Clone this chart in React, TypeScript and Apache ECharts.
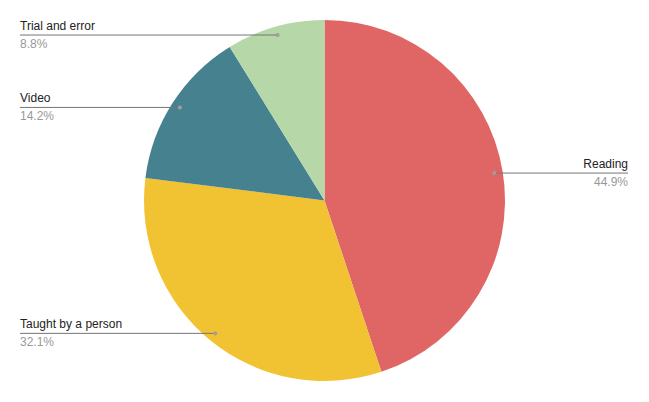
import { useEffect, useRef } from "react";
import * as echarts from "echarts";

const categories = ["Reading", "Taught by a person", "Video", "Trial and error"];
const shares = [44.9, 32.1, 14.2, 8.8];
const colors = ["#e06666", "#f1c232", "#45818e", "#b6d7a8"];

const CX = 324.5;
const CY = 200.5;
const R = 180.5;
const DOT_R = 172;
const LEFT_EDGE = 20;
const RIGHT_EDGE = 628;
const FONT = "'Liberation Sans', Arial, sans-serif";

function dotPoint(i: number): [number, number] {
  const total = shares.reduce((a, b) => a + b, 0);
  let cum = 0;
  for (let k = 0; k < i; k++) cum += shares[k];
  const mid = cum + shares[i] / 2;
  const ang = ((90 - (mid / total) * 360) * Math.PI) / 180;
  return [CX + DOT_R * Math.cos(ang), CY - DOT_R * Math.sin(ang)];
}

export default function App() {
  const ref = useRef<HTMLDivElement>(null);
  useEffect(() => {
    const chart = echarts.init(ref.current!, null, { renderer: "svg" });
    const data = categories.map((name, i) => ({ name, value: shares[i] }));
    chart.setOption({
      animation: false,
      color: colors,
      textStyle: { fontFamily: FONT },
      series: [
        {
          type: "pie",
          center: [CX, CY],
          radius: R,
          startAngle: 90,
          clockwise: true,
          data,
          silent: true,
          label: { show: false },
          labelLine: { show: false },
          itemStyle: { borderWidth: 0 },
        },
        {
          type: "pie",
          center: [CX, CY],
          radius: DOT_R,
          startAngle: 90,
          clockwise: true,
          data,
          silent: true,
          z: 3,
          itemStyle: { color: "transparent", borderWidth: 0 },
          label: {
            show: true,
            position: "outside",
            formatter: (p: any) => `{n|${p.name}}\n{p|${Number(p.value).toFixed(1)}%}`,
            rich: {
              n: { fontSize: 12, color: "#222222", fontFamily: FONT, lineHeight: 18 },
              p: { fontSize: 12, color: "#999999", fontFamily: FONT, lineHeight: 18 },
            },
          },
          labelLine: {
            show: true,
            length: 0,
            length2: 0,
            lineStyle: { color: "#757575", width: 1 },
          },
          labelLayout: (params: any) => {
            const [x0, y0] = dotPoint(params.dataIndex);
            const left = x0 < CX;
            const ex = left ? LEFT_EDGE : RIGHT_EDGE;
            return {
              x: ex,
              y: y0,
              align: left ? "left" : "right",
              verticalAlign: "middle",
              labelLinePoints: [
                [x0, y0],
                [ex, y0],
                [ex, y0],
              ],
            };
          },
        },
        {
          type: "custom",
          coordinateSystem: "none",
          silent: true,
          z: 10,
          data: shares.map((_, i) => i),
          renderItem: (params: any) => {
            const [x, y] = dotPoint(params.dataIndex);
            return {
              type: "circle",
              shape: { cx: x, cy: y, r: 2 },
              style: { fill: "#9e9e9e" },
            };
          },
        },
      ],
    });
    return () => chart.dispose();
  }, []);
  return (
    <div
      ref={ref}
      style={{ position: "fixed", left: 0, top: 0, width: 649, height: 402, background: "#fff" }}
    />
  );
}
